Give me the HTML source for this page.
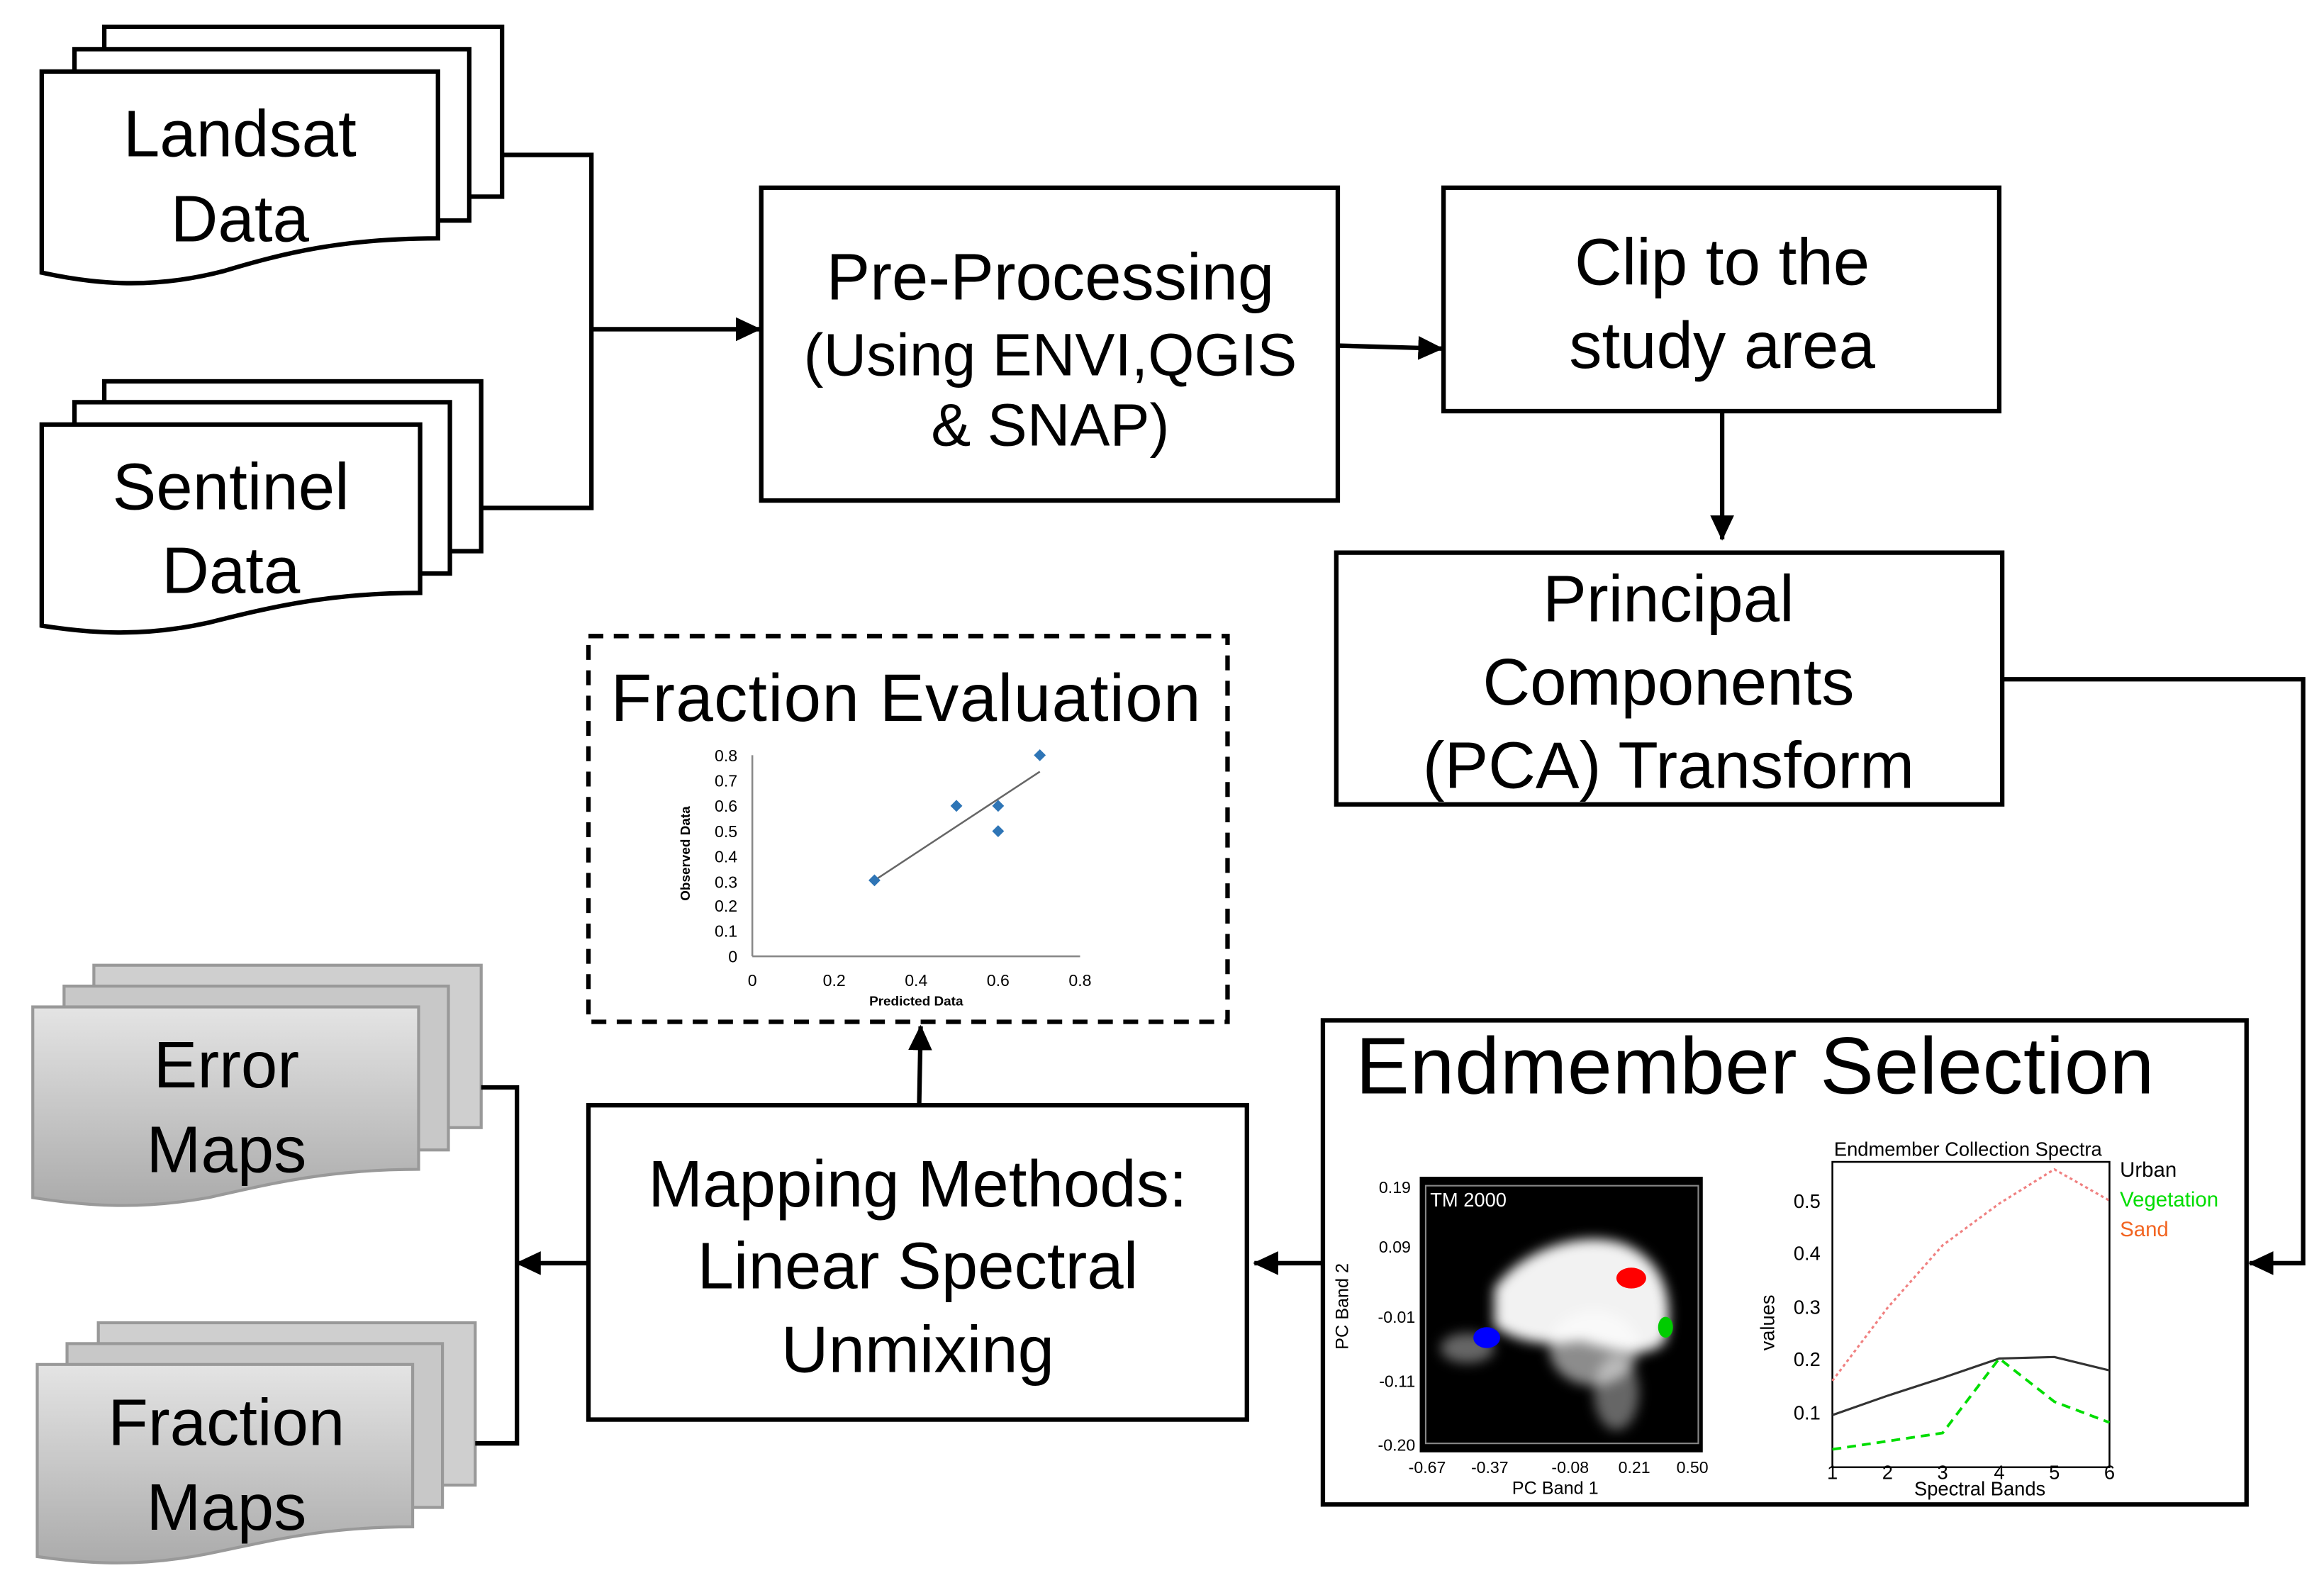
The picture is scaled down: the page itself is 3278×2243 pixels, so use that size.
<!DOCTYPE html>
<html><head><meta charset="utf-8"><style>
html,body{margin:0;padding:0;background:#fff}
svg{display:block}
text{font-family:"Liberation Sans",Arial,sans-serif}
</style></head><body>
<svg width="3278" height="2243" viewBox="0 0 1560 1067.4" xmlns="http://www.w3.org/2000/svg">
<defs>
<linearGradient id="g" x1="0" y1="0" x2="0" y2="1"><stop offset="0" stop-color="#e4e4e4"/><stop offset="1" stop-color="#ababab"/></linearGradient>
<marker id="a" markerWidth="18" markerHeight="16" refX="16" refY="8" orient="auto" markerUnits="userSpaceOnUse"><path d="M0,0 L17,8 L0,16 Z" fill="#000"/></marker>
<filter id="b"><feGaussianBlur stdDeviation="4"/></filter>
</defs>
<g stroke="#000" stroke-width="3" fill="#fff">
<rect x="70" y="18" width="267" height="114"/>
<rect x="50" y="33" width="265" height="115"/>
<path d="M28,48 H294 V160 C230,160 190,170 150,182 C100,195 60,190 28,183 Z"/>
<rect x="70" y="256" width="253" height="114"/>
<rect x="50" y="270" width="252" height="115"/>
<path d="M28,285 H282 V398 C220,398 180,408 140,418 C95,428 60,425 28,420 Z"/>
</g>
<g stroke="#999" stroke-width="2" fill="url(#g)">
<rect x="63" y="648" width="260" height="109" fill="#cfcfcf"/>
<rect x="43" y="662" width="258" height="110" fill="#c8c8c8"/>
<path d="M22,676 H281 V785 C220,785 180,795 140,804 C95,812 60,810 22,804 Z"/>
<rect x="66" y="888" width="253" height="109" fill="#cfcfcf"/>
<rect x="45" y="902" width="252" height="110" fill="#c8c8c8"/>
<path d="M25,916 H277 V1025 C215,1025 180,1035 140,1043 C95,1052 60,1050 25,1045 Z"/>
</g>
<g font-size="44" text-anchor="middle" fill="#000">
<text x="161" y="105">Landsat</text><text x="161" y="162">Data</text>
<text x="155" y="342">Sentinel</text><text x="155" y="398">Data</text>
<text x="152" y="730">Error</text><text x="152" y="787">Maps</text>
<text x="152" y="970">Fraction</text><text x="152" y="1027">Maps</text>
</g>
<g stroke="#000" stroke-width="3" fill="none">
<polyline points="337,104 397,104 397,341 323,341"/>
<line x1="397" y1="221" x2="510" y2="221" marker-end="url(#a)"/>
<line x1="898" y1="232" x2="968" y2="234" marker-end="url(#a)"/>
<line x1="1156" y1="276" x2="1156" y2="362" marker-end="url(#a)"/>
<polyline points="1344,456 1546,456 1546,848 1510,848" marker-end="url(#a)"/>
<line x1="888" y1="848" x2="842" y2="848" marker-end="url(#a)"/>
<line x1="617" y1="742" x2="618" y2="689" marker-end="url(#a)"/>
<line x1="395" y1="848" x2="347" y2="848" marker-end="url(#a)"/>
<polyline points="323,730 347,730 347,969 319,969"/>
</g>
<g stroke="#000" stroke-width="3" fill="#fff">
<rect x="511" y="126" width="387" height="210"/>
<rect x="969" y="126" width="373" height="150"/>
<rect x="897" y="371" width="447" height="169"/>
<rect x="888" y="685" width="620" height="325"/>
<rect x="395" y="742" width="442" height="211"/>
<rect x="395" y="427" width="429" height="259" stroke-dasharray="10,7"/>
</g>
<g text-anchor="middle" fill="#000" font-size="44">
<text x="705" y="201">Pre-Processing</text>
<text x="705" y="252" font-size="40">(Using ENVI,QGIS</text>
<text x="705" y="299" font-size="40">&amp; SNAP)</text>
<text x="1156" y="191">Clip to the</text><text x="1156" y="247">study area</text>
<text x="1120" y="417">Principal</text><text x="1120" y="473">Components</text><text x="1120" y="529">(PCA) Transform</text>
<text x="616" y="810">Mapping Methods:</text><text x="616" y="865">Linear Spectral</text><text x="616" y="921">Unmixing</text>
</g>
<text x="410" y="484" font-size="45" textLength="396">Fraction Evaluation</text>
<text x="910" y="734" font-size="54" textLength="536">Endmember Selection</text>
<g stroke="#888" stroke-width="1.2" fill="none">
<line x1="505" y1="507" x2="505" y2="642"/><line x1="505" y1="642" x2="725" y2="642"/>
<line x1="587" y1="591" x2="698" y2="518" stroke="#666"/>
</g>
<g font-size="11" text-anchor="end" fill="#000">
<text x="495" y="511">0.8</text><text x="495" y="528">0.7</text><text x="495" y="545">0.6</text><text x="495" y="562">0.5</text><text x="495" y="579">0.4</text><text x="495" y="596">0.3</text><text x="495" y="612">0.2</text><text x="495" y="629">0.1</text><text x="495" y="646">0</text>
</g>
<g font-size="11" text-anchor="middle"><text x="505" y="662">0</text><text x="560" y="662">0.2</text><text x="615" y="662">0.4</text><text x="670" y="662">0.6</text><text x="725" y="662">0.8</text>
<text x="615" y="675" font-size="9" font-weight="bold">Predicted Data</text>
<text transform="translate(463,573) rotate(-90)" font-size="9" font-weight="bold">Observed Data</text></g>
<g fill="#2e75b6"><path d="M587,587 l4,4 -4,4 -4,-4z"/><path d="M642,537 l4,4 -4,4 -4,-4z"/><path d="M670,537 l4,4 -4,4 -4,-4z"/><path d="M670,554 l4,4 -4,4 -4,-4z"/><path d="M698,503 l4,4 -4,4 -4,-4z"/></g>
<rect x="953" y="790" width="190" height="185" fill="#000"/>
<rect x="957" y="796" width="183" height="173" fill="none" stroke="#888" stroke-width="1"/>
<g fill="#fff" filter="url(#b)">
<path d="M1003,865 C1020,840 1060,825 1090,835 C1115,845 1125,870 1118,900 C1105,915 1080,905 1060,900 C1040,905 1015,900 1003,890 Z" opacity="0.95"/>
<ellipse cx="1070" cy="905" rx="30" ry="25" opacity="0.55"/>
<ellipse cx="1085" cy="935" rx="15" ry="25" opacity="0.4"/>
<ellipse cx="985" cy="905" rx="18" ry="10" opacity="0.4"/>
</g>
<ellipse cx="1095" cy="858" rx="10" ry="7" fill="#f00"/>
<ellipse cx="998" cy="898" rx="9" ry="7" fill="#00f"/>
<ellipse cx="1118" cy="891" rx="5" ry="7" fill="#0c0"/>
<text x="960" y="810" font-size="13" fill="#fff">TM 2000</text>
<g font-size="11" text-anchor="end"><text x="947" y="801">0.19</text><text x="947" y="841">0.09</text><text x="950" y="888">-0.01</text><text x="950" y="931">-0.11</text><text x="950" y="974">-0.20</text></g>
<g font-size="11" text-anchor="middle"><text x="958" y="989">-0.67</text><text x="1000" y="989">-0.37</text><text x="1054" y="989">-0.08</text><text x="1097" y="989">0.21</text><text x="1136" y="989">0.50</text>
<text x="1044" y="1003" font-size="12">PC Band 1</text>
<text transform="translate(905,877) rotate(-90)" font-size="12">PC Band 2</text></g>
<rect x="1230" y="780" width="186" height="205" fill="none" stroke="#000" stroke-width="1.2"/>
<text x="1321" y="776" font-size="13" text-anchor="middle">Endmember  Collection Spectra</text>
<g font-size="13" text-anchor="end"><text x="1222" y="811">0.5</text><text x="1222" y="846">0.4</text><text x="1222" y="882">0.3</text><text x="1222" y="917">0.2</text><text x="1222" y="953">0.1</text></g>
<g font-size="13" text-anchor="middle"><text x="1230" y="993">1</text><text x="1267" y="993">2</text><text x="1304" y="993">3</text><text x="1342" y="993">4</text><text x="1379" y="993">5</text><text x="1416" y="993">6</text>
<text x="1329" y="1004">Spectral Bands</text>
<text transform="translate(1191,888) rotate(-90)" font-size="13">values</text></g>
<polyline points="1230,950 1267,937 1304,925 1342,912 1379,911 1416,920" fill="none" stroke="#333" stroke-width="1.5"/>
<polyline points="1230,927 1267,878 1304,836 1342,808 1379,785 1416,806" fill="none" stroke="#f08080" stroke-width="1.5" stroke-dasharray="2,2"/>
<polyline points="1230,973 1304,962 1342,912 1379,941 1416,955" fill="none" stroke="#0d0" stroke-width="1.8" stroke-dasharray="6,4"/>
<text x="1423" y="790" font-size="14">Urban</text>
<text x="1423" y="810" font-size="14" fill="#0d0">Vegetation</text>
<text x="1423" y="830" font-size="14" fill="#f26522">Sand</text>
</svg>
</body></html>
